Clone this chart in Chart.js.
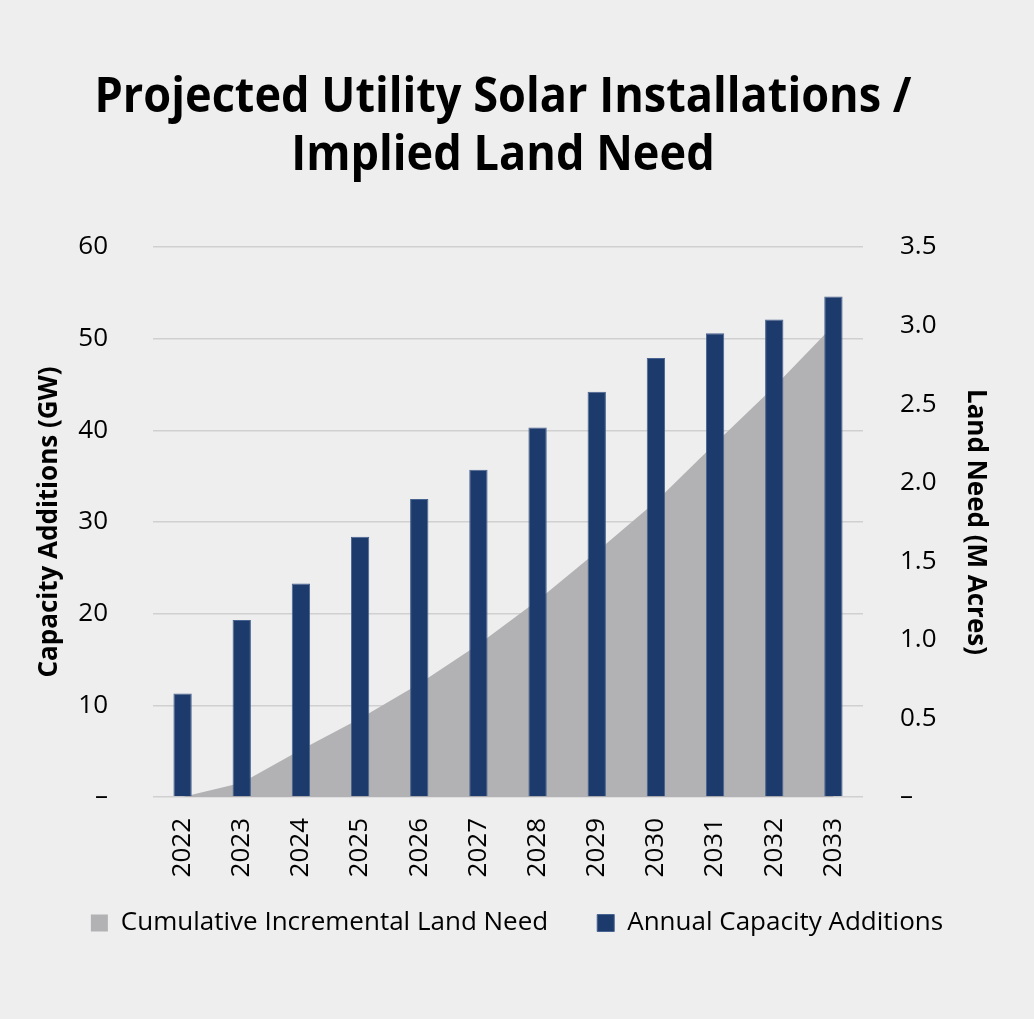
<!DOCTYPE html>
<html>
<head>
<meta charset="utf-8">
<script src="https://cdn.jsdelivr.net/npm/chart.js@4.4.0/dist/chart.umd.min.js"></script>
<style>
    html, body { margin: 0; padding: 0; background: #eeeeee; }
    #wrap { width: 1034px; height: 1019px; }
</style>
</head>
<body>
<div id="wrap"><canvas id="solarChart" width="1034" height="1019"></canvas></div>
<script>
const years = ['2022', '2023', '2024', '2025', '2026', '2027', '2028', '2029', '2030', '2031', '2032', '2033']
const capacityGW = [11.3, 19.3, 23.3, 28.4, 32.5, 35.7, 40.3, 44.2, 47.9, 50.6, 52.1, 54.6]
const landNeedMAcres = [0, 0.09, 0.30, 0.50, 0.72, 0.97, 1.25, 1.56, 1.88, 2.25, 2.61, 3.00]
const titleLines = ['Projected Utility Solar Installations /', 'Implied Land Need']

const FONT = '"Open Sans", "Noto Sans", sans-serif'

// title drawn a bit narrower than the font, like the original
const titlePlugin = {
    id: 'squeezedTitle',
    afterLayout(chart) {
        // pull the legend a little closer to the year labels
        chart.legend.top -= 20
        chart.legend.bottom -= 20
    },
    afterDraw(chart) {
        const ctx = chart.ctx
        ctx.save()
        ctx.font = 'bold 48px ' + FONT
        ctx.fillStyle = '#000'
        ctx.textBaseline = 'alphabetic'
        ctx.textAlign = 'center'
        const w = ctx.measureText(titleLines[0]).width
        const sx = 817 / w
        const cx = 503
        const baselines = [112, 170]
        titleLines.forEach((line, i) => {
            ctx.save()
            ctx.translate(cx, baselines[i])
            ctx.scale(sx, 1)
            ctx.fillText(line, 0, 0)
            ctx.restore()
        })
        ctx.restore()
    }
}

const data = {
    labels: years,
    datasets: [{
        type: 'line',
        label: 'Cumulative Incremental Land Need',
        data: landNeedMAcres,
        yAxisID: 'y1',
        fill: 'origin',
        backgroundColor: '#b2b2b4',
        borderColor: '#b2b2b4',
        borderWidth: 0,
        pointRadius: 0,
        tension: 0,
        order: 1
    },
    {
        type: 'bar',
        label: 'Annual Capacity Additions',
        data: capacityGW,
        yAxisID: 'y',
        backgroundColor: '#1c3a6b',
        borderColor: '#48638f',
        borderWidth: 1,
        categoryPercentage: 1,
        barPercentage: 0.31,
        order: 0
    }]
}

const config = {
    type: 'bar',
    data: data,
    plugins: [titlePlugin],
    options: {
        responsive: false,
        animation: false,
        layout: { padding: { top: 247, left: 20, right: 20, bottom: 53 } },
        plugins: {
            tooltip: { enabled: false },
            legend: {
                position: 'bottom',
                labels: {
                    font: { family: FONT, size: 26 },
                    color: '#000',
                    boxWidth: 17,
                    boxHeight: 17,
                    padding: 49,
                    sort: (a, b) => a.datasetIndex - b.datasetIndex
                }
            }
        },
        scales: {
            x: {
                grid: { display: false, drawTicks: false },
                border: { display: false },
                ticks: {
                    font: { family: FONT, size: 26 },
                    color: '#000',
                    minRotation: 90,
                    maxRotation: 90,
                    padding: 21
                },
                afterFit: (scale) => { scale.height = 84 }
            },
            y: {
                position: 'left',
                min: 0,
                max: 60,
                grid: { color: '#d0d0d0', lineWidth: 1.5, drawTicks: false },
                border: { display: false },
                ticks: {
                    stepSize: 10,
                    font: { family: FONT, size: 26 },
                    color: '#000',
                    padding: 45,
                    callback: (v) => v === 0 ? '–' : v
                },
                title: {
                    display: true,
                    text: 'Capacity Additions (GW)',
                    font: { family: FONT, size: 26, weight: 'bold' },
                    color: '#000',
                    padding: { top: 14, bottom: 0 }
                },
                afterFit: (scale) => { scale.width = 133 }
            },
            y1: {
                position: 'right',
                min: 0,
                max: 3.5,
                grid: { display: false, drawTicks: false },
                border: { display: false },
                ticks: {
                    stepSize: 0.5,
                    font: { family: FONT, size: 26 },
                    color: '#000',
                    padding: 37,
                    callback: (v) => v === 0 ? '–' : v.toFixed(1)
                },
                title: {
                    display: true,
                    text: 'Land Need (M Acres)',
                    font: { family: FONT, size: 26, weight: 'bold' },
                    color: '#000',
                    padding: { top: 23, bottom: 0 }
                },
                afterFit: (scale) => { scale.width = 151 }
            }
        }
    }
}

const solarChart = new Chart(document.getElementById('solarChart'), config)
</script>
</body>
</html>
